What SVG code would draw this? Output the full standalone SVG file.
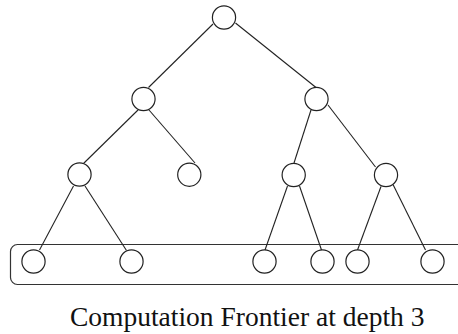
<svg xmlns="http://www.w3.org/2000/svg" width="458" height="334" viewBox="0 0 458 334">
  <style>
    .node { fill: #ffffff; stroke: #222222; stroke-width: 1.2; }
    .edge { stroke: #222222; stroke-width: 1.1; fill: none; }
    .frontier { fill: none; stroke: #333333; stroke-width: 1.2; }
    .caption { font-family: "Liberation Serif", "Times New Roman", serif; font-size: 27.5px; fill: #111111; }
  </style>

  <!-- frontier band around the depth-3 nodes -->
  <rect id="frontier" class="frontier" x="10.5" y="244.5" width="470" height="40" rx="7" ry="7"/>

  <g id="edges">
    <line class="edge" x1="213" y1="24" x2="148.5" y2="87.5"/>
    <line class="edge" x1="235.5" y1="23" x2="316" y2="87.5"/>
    <line class="edge" x1="138" y1="110" x2="83.5" y2="163.5"/>
    <line class="edge" x1="149" y1="110" x2="195" y2="163"/>
    <line class="edge" x1="311" y1="110" x2="294" y2="163"/>
    <line class="edge" x1="328" y1="105" x2="375.5" y2="167"/>
    <line class="edge" x1="73.5" y1="186" x2="39.5" y2="250"/>
    <line class="edge" x1="85" y1="186" x2="126.5" y2="250.5"/>
    <line class="edge" x1="287.5" y1="186" x2="265" y2="250"/>
    <line class="edge" x1="299.5" y1="186" x2="321.5" y2="250"/>
    <line class="edge" x1="381" y1="186.5" x2="357.5" y2="250"/>
    <line class="edge" x1="393" y1="184.5" x2="425.5" y2="250"/>
  </g>

  <g id="root"><circle class="node" cx="224" cy="17.5" r="11.6"/></g>
  <g id="n1a"><circle class="node" cx="143.5" cy="99" r="11.6"/></g>
  <g id="n1b"><circle class="node" cx="316.5" cy="99" r="11.6"/></g>
  <g id="n2a"><circle class="node" cx="79.5" cy="174.5" r="11.6"/></g>
  <g id="n2b"><circle class="node" cx="189.3" cy="174.7" r="11.6"/></g>
  <g id="n2c"><circle class="node" cx="293.7" cy="175" r="11.6"/></g>
  <g id="n2d"><circle class="node" cx="386" cy="175" r="11.6"/></g>
  <g id="n3a"><circle class="node" cx="33.5" cy="261.5" r="11.6"/></g>
  <g id="n3b"><circle class="node" cx="131.5" cy="261.5" r="11.6"/></g>
  <g id="n3c"><circle class="node" cx="264.5" cy="261.5" r="11.6"/></g>
  <g id="n3d"><circle class="node" cx="322.5" cy="261.5" r="11.6"/></g>
  <g id="n3e"><circle class="node" cx="357.5" cy="261.5" r="11.6"/></g>
  <g id="n3f"><circle class="node" cx="432.5" cy="261.5" r="11.6"/></g>

  <text id="caption" class="caption" x="70" y="326">Computation Frontier at depth 3</text>
</svg>
